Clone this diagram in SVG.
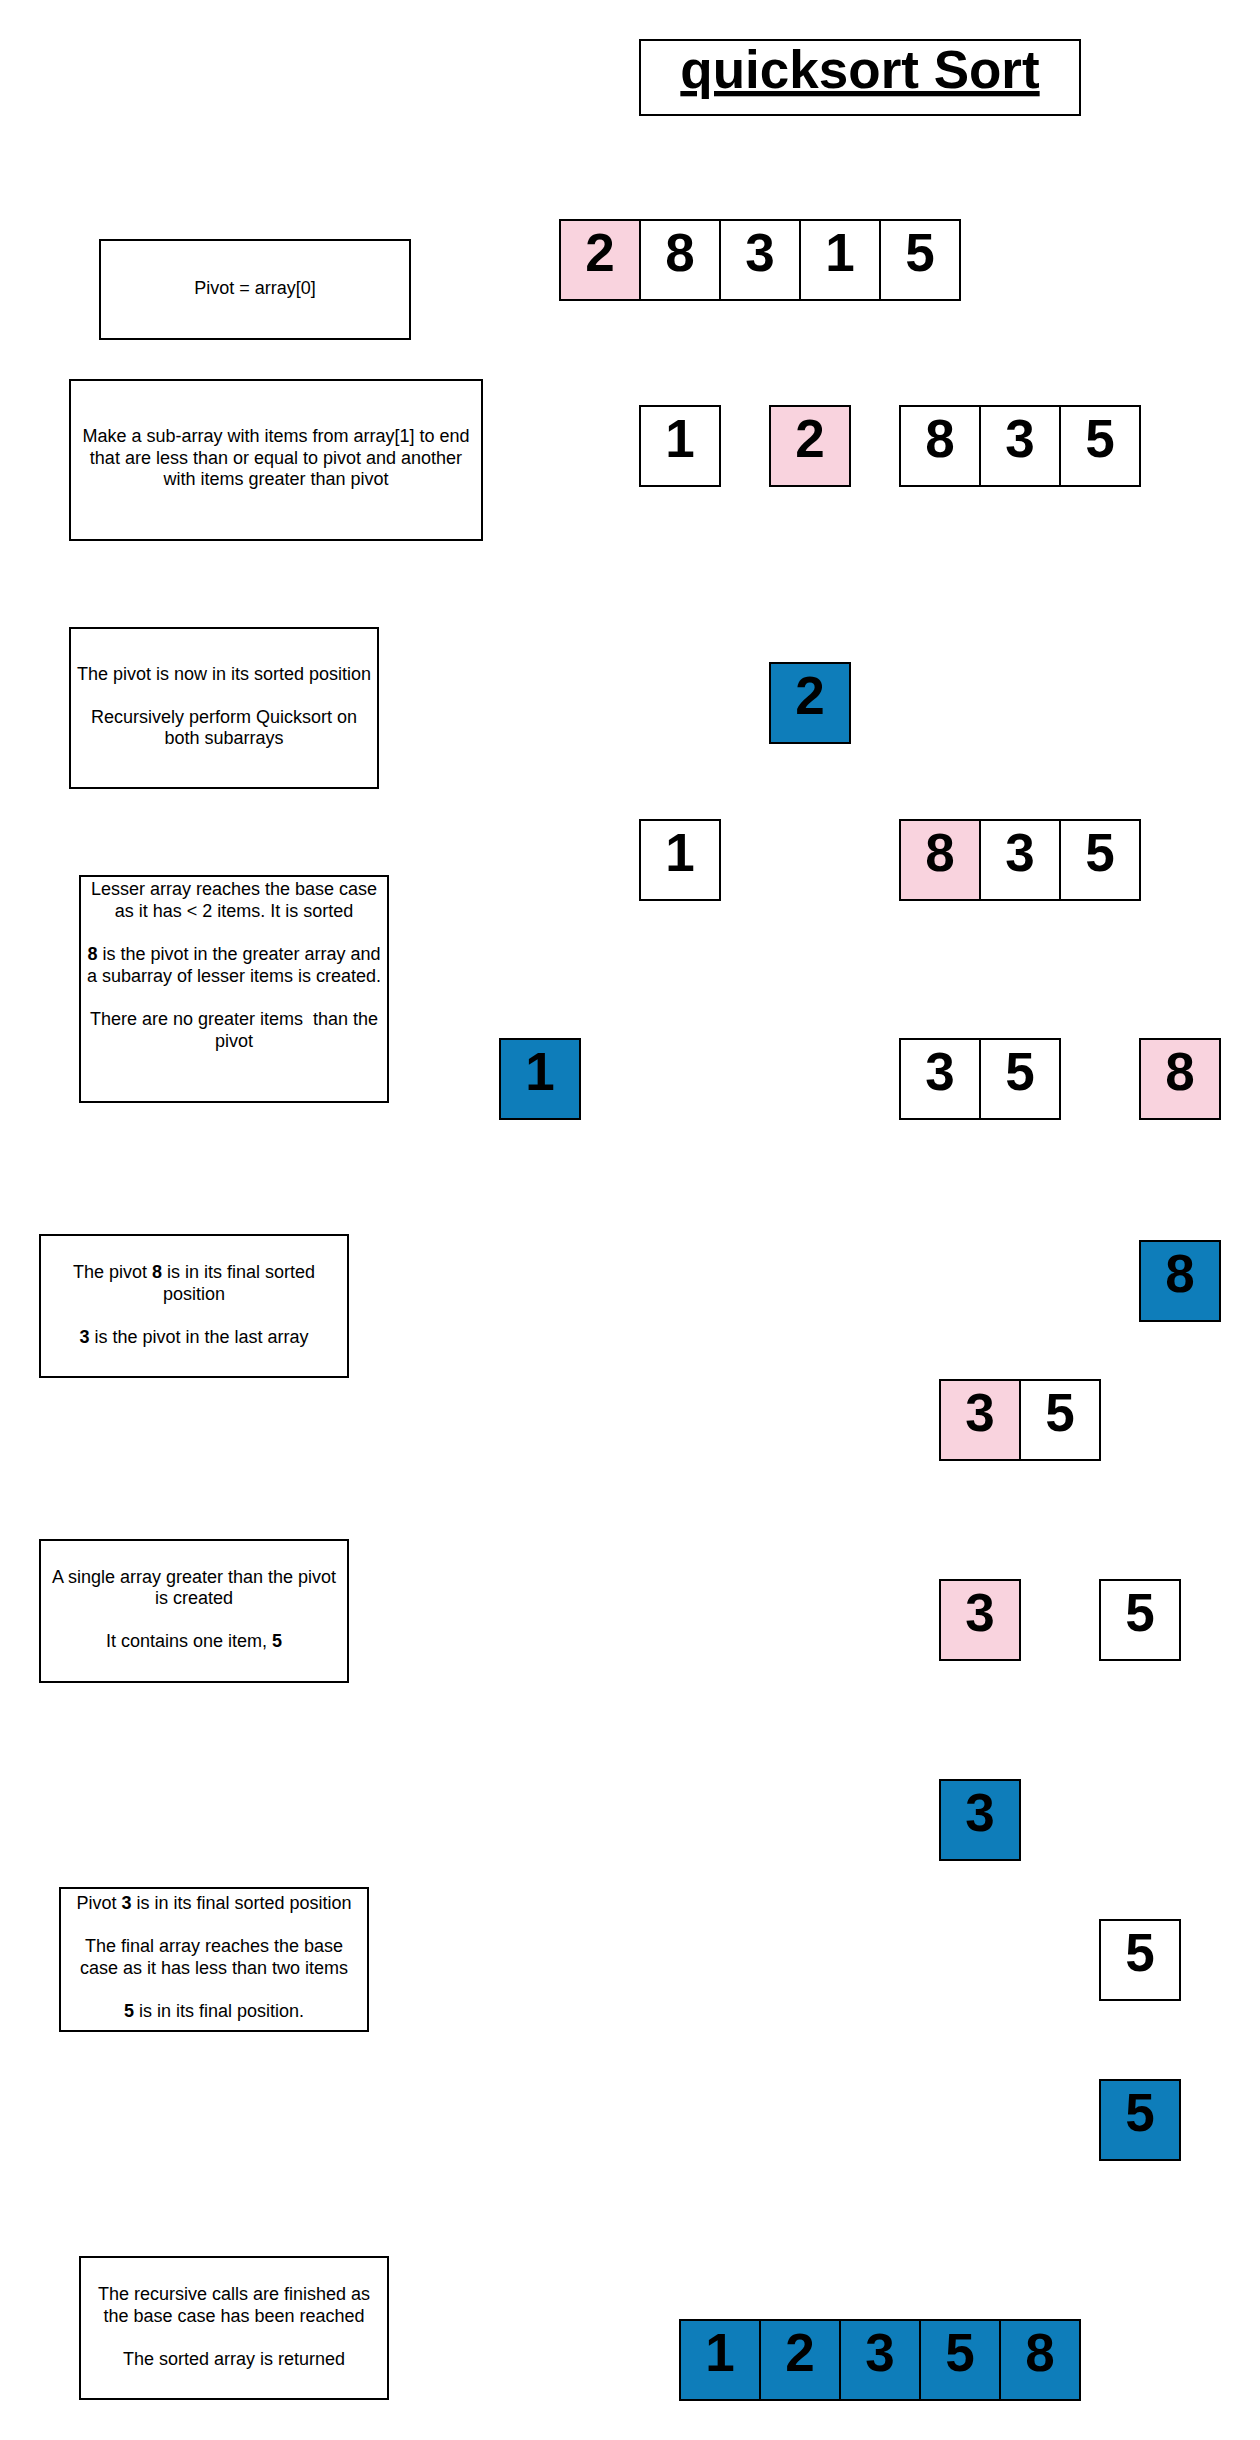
<svg xmlns="http://www.w3.org/2000/svg" width="1260" height="2440" viewBox="0 0 1260 2440">
<style>
.bg{fill:#ffffff}
.box{fill:#ffffff;stroke:#000000;stroke-width:2}
.cell{fill:#ffffff;stroke:#000000;stroke-width:2}
.pink{fill:#F9D3DE}
.blue{fill:#0E7DBA}
.txt{font-family:"Liberation Sans",Arial,sans-serif;font-size:18px;fill:#000000;text-anchor:middle}
.num{font-family:"Liberation Sans",Arial,sans-serif;font-size:53px;font-weight:bold;fill:#000000;text-anchor:middle}
.title{font-family:"Liberation Sans",Arial,sans-serif;font-size:53px;font-weight:bold;fill:#000000;text-anchor:middle;text-decoration:underline}
.b{font-weight:bold}
</style>
<rect class="bg" x="0" y="0" width="1260" height="2440"/>
<g id="connectors"></g>

<g id="title">
<rect class="box" x="640" y="40" width="440" height="75"/>
<text class="title" x="860" y="88">quicksort Sort</text>
</g>

<g id="note-pivot">
<rect class="box" x="100" y="240" width="310" height="99"/>
<text class="txt" x="255" y="294">Pivot = array[0]</text>
</g>

<g id="note-subarray">
<rect class="box" x="70" y="380" width="412" height="160"/>
<text class="txt" x="276" y="442">Make a sub-array with items from array[1] to end</text>
<text class="txt" x="276" y="463.5">that are less than or equal to pivot and another</text>
<text class="txt" x="276" y="485">with items greater than pivot</text>
</g>

<g id="note-sorted">
<rect class="box" x="70" y="628" width="308" height="160"/>
<text class="txt" x="224" y="679.5">The pivot is now in its sorted position</text>
<text class="txt" x="224" y="722.5">Recursively perform Quicksort on</text>
<text class="txt" x="224" y="744">both subarrays</text>
</g>

<g id="note-lesser">
<rect class="box" x="80" y="876" width="308" height="226"/>
<text class="txt" x="234" y="895">Lesser array reaches the base case</text>
<text class="txt" x="234" y="916.5">as it has &lt; 2 items. It is sorted</text>
<text class="txt" x="234" y="960"><tspan class="b">8</tspan> is the pivot in the greater array and</text>
<text class="txt" x="234" y="981.5">a subarray of lesser items is created.</text>
<text class="txt" x="234" y="1025" xml:space="preserve">There are no greater items  than the</text>
<text class="txt" x="234" y="1046.5">pivot</text>
</g>

<g id="note-pivot8">
<rect class="box" x="40" y="1235" width="308" height="142"/>
<text class="txt" x="194" y="1278">The pivot <tspan class="b">8</tspan> is in its final sorted</text>
<text class="txt" x="194" y="1299.5">position</text>
<text class="txt" x="194" y="1342.5"><tspan class="b">3</tspan> is the pivot in the last array</text>
</g>

<g id="note-single">
<rect class="box" x="40" y="1540" width="308" height="142"/>
<text class="txt" x="194" y="1582.5">A single array greater than the pivot</text>
<text class="txt" x="194" y="1604">is created</text>
<text class="txt" x="194" y="1647">It contains one item, <tspan class="b">5</tspan></text>
</g>

<g id="note-pivot3">
<rect class="box" x="60" y="1888" width="308" height="143"/>
<text class="txt" x="214" y="1909"><tspan>Pivot </tspan><tspan class="b">3</tspan><tspan> is in its final sorted position</tspan></text>
<text class="txt" x="214" y="1952">The final array reaches the base</text>
<text class="txt" x="214" y="1973.5">case as it has less than two items</text>
<text class="txt" x="214" y="2016.5"><tspan class="b">5</tspan> is in its final position.</text>
</g>

<g id="note-recursive">
<rect class="box" x="80" y="2257" width="308" height="142"/>
<text class="txt" x="234" y="2300">The recursive calls are finished as</text>
<text class="txt" x="234" y="2321.5">the base case has been reached</text>
<text class="txt" x="234" y="2364.5">The sorted array is returned</text>
</g>

<g id="array-initial">
<rect class="cell pink" x="560" y="220" width="80" height="80"/>
<rect class="cell" x="640" y="220" width="80" height="80"/>
<rect class="cell" x="720" y="220" width="80" height="80"/>
<rect class="cell" x="800" y="220" width="80" height="80"/>
<rect class="cell" x="880" y="220" width="80" height="80"/>
<text class="num" x="600" y="271">2</text>
<text class="num" x="680" y="271">8</text>
<text class="num" x="760" y="271">3</text>
<text class="num" x="840" y="271">1</text>
<text class="num" x="920" y="271">5</text>
</g>

<g id="row2-lesser">
<rect class="cell" x="640" y="406" width="80" height="80"/>
<text class="num" x="680" y="457">1</text>
</g>
<g id="row2-pivot">
<rect class="cell pink" x="770" y="406" width="80" height="80"/>
<text class="num" x="810" y="457">2</text>
</g>
<g id="row2-greater">
<rect class="cell" x="900" y="406" width="80" height="80"/>
<rect class="cell" x="980" y="406" width="80" height="80"/>
<rect class="cell" x="1060" y="406" width="80" height="80"/>
<text class="num" x="940" y="457">8</text>
<text class="num" x="1020" y="457">3</text>
<text class="num" x="1100" y="457">5</text>
</g>

<g id="sorted-2">
<rect class="cell blue" x="770" y="663" width="80" height="80"/>
<text class="num" x="810" y="714">2</text>
</g>

<g id="row3-lesser">
<rect class="cell" x="640" y="820" width="80" height="80"/>
<text class="num" x="680" y="871">1</text>
</g>
<g id="row3-greater">
<rect class="cell pink" x="900" y="820" width="80" height="80"/>
<rect class="cell" x="980" y="820" width="80" height="80"/>
<rect class="cell" x="1060" y="820" width="80" height="80"/>
<text class="num" x="940" y="871">8</text>
<text class="num" x="1020" y="871">3</text>
<text class="num" x="1100" y="871">5</text>
</g>

<g id="sorted-1">
<rect class="cell blue" x="500" y="1039" width="80" height="80"/>
<text class="num" x="540" y="1090">1</text>
</g>
<g id="row4-lesser">
<rect class="cell" x="900" y="1039" width="80" height="80"/>
<rect class="cell" x="980" y="1039" width="80" height="80"/>
<text class="num" x="940" y="1090">3</text>
<text class="num" x="1020" y="1090">5</text>
</g>
<g id="row4-pivot">
<rect class="cell pink" x="1140" y="1039" width="80" height="80"/>
<text class="num" x="1180" y="1090">8</text>
</g>

<g id="sorted-8">
<rect class="cell blue" x="1140" y="1241" width="80" height="80"/>
<text class="num" x="1180" y="1292">8</text>
</g>

<g id="row5">
<rect class="cell pink" x="940" y="1380" width="80" height="80"/>
<rect class="cell" x="1020" y="1380" width="80" height="80"/>
<text class="num" x="980" y="1431">3</text>
<text class="num" x="1060" y="1431">5</text>
</g>

<g id="row6-pivot">
<rect class="cell pink" x="940" y="1580" width="80" height="80"/>
<text class="num" x="980" y="1631">3</text>
</g>
<g id="row6-greater">
<rect class="cell" x="1100" y="1580" width="80" height="80"/>
<text class="num" x="1140" y="1631">5</text>
</g>

<g id="sorted-3">
<rect class="cell blue" x="940" y="1780" width="80" height="80"/>
<text class="num" x="980" y="1831">3</text>
</g>

<g id="row7">
<rect class="cell" x="1100" y="1920" width="80" height="80"/>
<text class="num" x="1140" y="1971">5</text>
</g>

<g id="sorted-5">
<rect class="cell blue" x="1100" y="2080" width="80" height="80"/>
<text class="num" x="1140" y="2131">5</text>
</g>

<g id="array-final">
<rect class="cell blue" x="680" y="2320" width="80" height="80"/>
<rect class="cell blue" x="760" y="2320" width="80" height="80"/>
<rect class="cell blue" x="840" y="2320" width="80" height="80"/>
<rect class="cell blue" x="920" y="2320" width="80" height="80"/>
<rect class="cell blue" x="1000" y="2320" width="80" height="80"/>
<text class="num" x="720" y="2371">1</text>
<text class="num" x="800" y="2371">2</text>
<text class="num" x="880" y="2371">3</text>
<text class="num" x="960" y="2371">5</text>
<text class="num" x="1040" y="2371">8</text>
</g>
</svg>
